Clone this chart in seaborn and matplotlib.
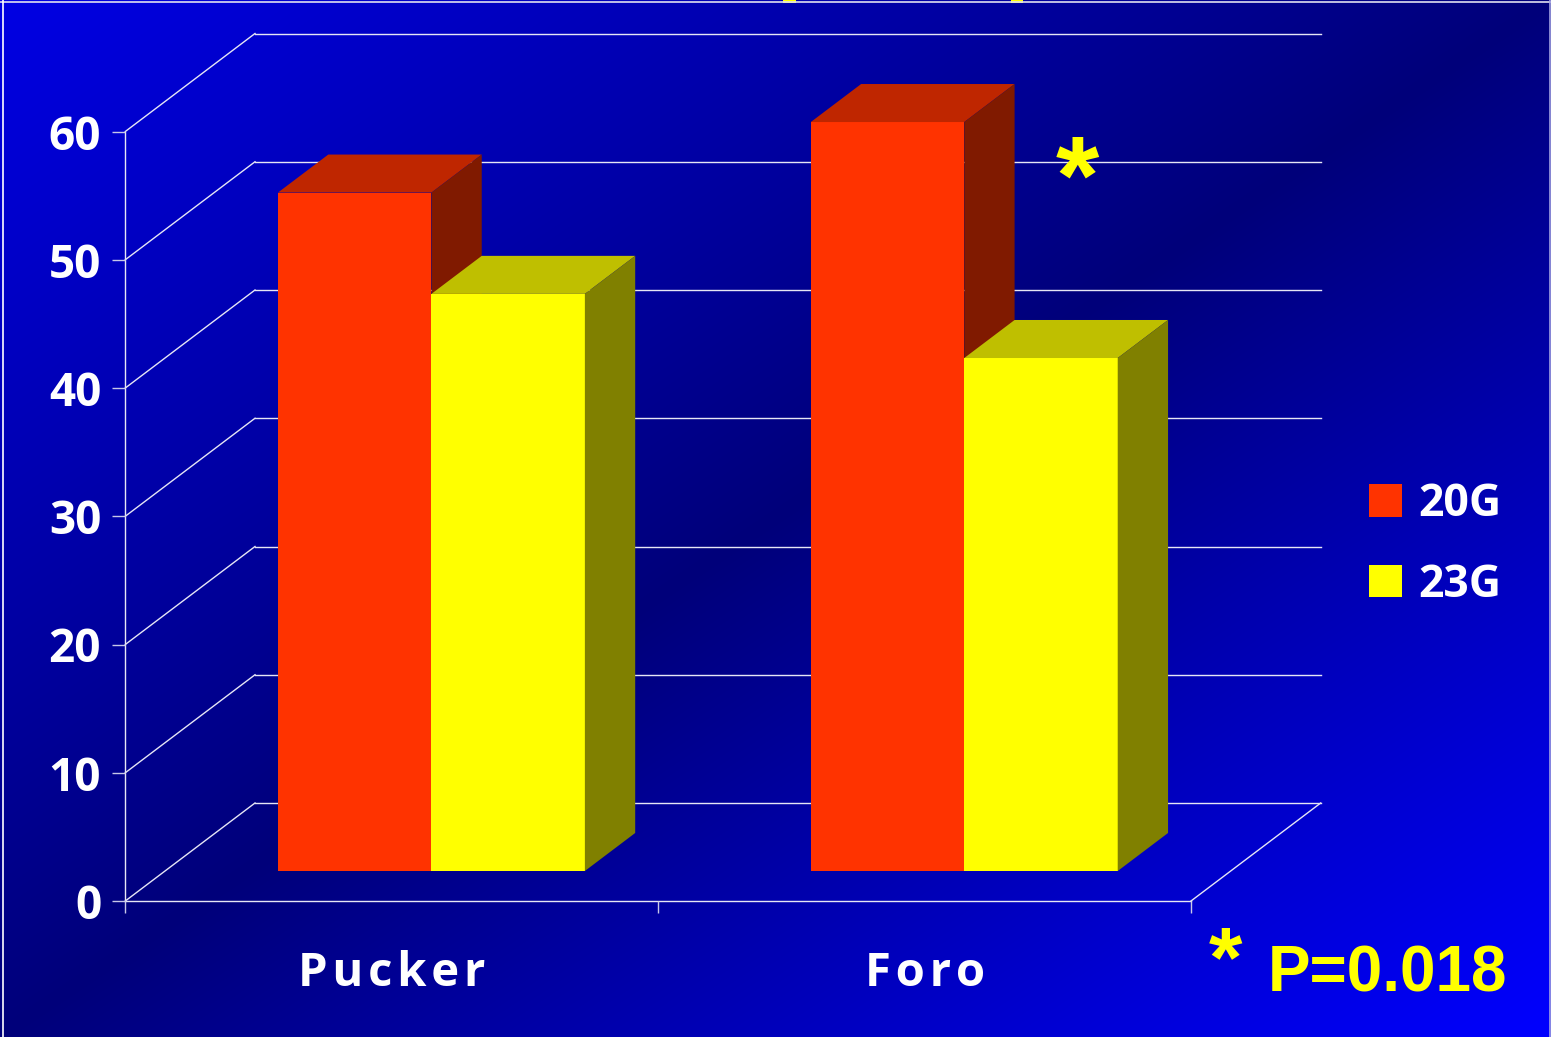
import numpy as np
import pandas as pd
import matplotlib
matplotlib.use("Agg")
import matplotlib.pyplot as plt
import matplotlib.transforms as mtransforms
from matplotlib.patches import Polygon, Rectangle
from matplotlib.lines import Line2D
import seaborn as sns

# ---------------- data ----------------
categories = ["Pucker", "Foro"]
groups = ["20G", "23G"]
values_20G = [52.9, 58.4]
values_23G = [45.0, 40.0]
y_ticks = [0, 10, 20, 30, 40, 50, 60]
category_labels = ["P\u200au\u200ac\u200ak\u200ae\u200ar", "F\u200ao\u200ar\u200ao"]
significance_mark = "*"
p_value_text = "P=0.018"
group_colors = {"20G": "#FF3300", "23G": "#FFFF00"}

plt.rcParams["font.family"] = ["Open Sans", "DejaVu Sans"]

W, H = 1551, 1037
fig = plt.figure(figsize=(W / 100, H / 100), dpi=100)

# ---------------- background gradient ----------------
bg = fig.add_axes([0, 0, 1, 1], zorder=-10)
xx, yy = np.meshgrid(np.linspace(0, 1, 600), np.linspace(0, 1, 400))
s = xx + yy
t = np.abs(s - 1.0)
blue = np.where(s < 1, 122 + t * (228 - 122), 122 + t * (255 - 122)) / 255.0
img = np.dstack([np.zeros_like(blue), np.zeros_like(blue), np.clip(blue, 0, 1)])
bg.imshow(img, extent=[0, 1, 0, 1], origin="upper", aspect="auto", interpolation="bilinear")
bg.set_xlim(0, 1)
bg.set_ylim(0, 1)
bg.axis("off")
# frame lines (top, left, right)
bg.add_line(Line2D([0, 1], [1 - 1.5 / H, 1 - 1.5 / H], color="#e0e0f0", lw=1.2))
bg.add_line(Line2D([2.5 / W, 2.5 / W], [0, 1], color="#ffffff", lw=1.2))
bg.add_line(Line2D([1 - 1.5 / W, 1 - 1.5 / W], [0, 1], color="#a0a0e0", lw=1.2))
# remnants of the cropped title
for x0, x1 in [(783, 796), (1011, 1023)]:
    bg.add_patch(Rectangle((x0 / W, 1 - 3 / H), (x1 - x0) / W, 3 / H, color="#FFFF00", lw=0))

# ---------------- main axes (front plane) ----------------
fx0, fx1 = 125.3, 1191.0
fy0, fy60 = 901.0, 131.5
ax = fig.add_axes([fx0 / W, (H - fy0) / H, (fx1 - fx0) / W, (fy0 - fy60) / H])
ax.set_facecolor("none")

df = pd.DataFrame({
    "category": categories * 2,
    "group": [groups[0]] * len(categories) + [groups[1]] * len(categories),
    "value": values_20G + values_23G,
})

sns.barplot(data=df, x="category", y="value", hue="group", order=categories,
            hue_order=groups, palette=group_colors, width=0.576, saturation=1,
            errorbar=None, edgecolor="none", linewidth=0, ax=ax)

ax.set_xlim(-0.5, len(categories) - 0.5)
ax.set_ylim(0, 60)
ax.set_xlabel("")
ax.set_ylabel("")

handles, labels = ax.get_legend_handles_labels()
if ax.get_legend() is not None:
    ax.get_legend().remove()


def px_to_data(dxp, dyp):
    p0 = ax.transData.transform((0, 0))
    return ax.transData.inverted().transform(p0 + np.array([dxp, dyp]))


depth_px = np.array([129.7, 98.0])
D = px_to_data(*depth_px)
front_frac, bar_frac = 0.306, 0.388
B = px_to_data(*(depth_px * bar_frac))
off = mtransforms.offset_copy(ax.transData, fig=fig, x=depth_px[0] * front_frac,
                              y=depth_px[1] * front_frac, units="dots")

# walls / grid
grid_kw = dict(color="#e6e6f5", lw=1.0, zorder=0.5, clip_on=False)
xl, xr = ax.get_xlim()
for v in y_ticks:
    ax.add_line(Line2D([xl + D[0], xr + D[0]], [v + D[1], v + D[1]], **grid_kw))
    ax.add_line(Line2D([xl, xl + D[0]], [v, v + D[1]], **grid_kw))
ax.add_line(Line2D([xr, xr + D[0]], [0, D[1]], **grid_kw))

# 3D bar faces
for i, cont in enumerate(ax.containers):
    base_z = 2 + i
    for p in cont.patches:
        p.set_transform(off)
        p.set_clip_on(False)
        p.set_zorder(base_z)
        fc = np.array(p.get_facecolor()[:3])
        x0 = p.get_x()
        x1 = x0 + p.get_width()
        h = p.get_height()
        top = Polygon([(x0, h), (x1, h), (x1 + B[0], h + B[1]), (x0 + B[0], h + B[1])],
                      closed=True, facecolor=fc * 0.75, edgecolor="none",
                      transform=off, clip_on=False, zorder=base_z + 0.1)
        side = Polygon([(x1, 0), (x1 + B[0], B[1]), (x1 + B[0], h + B[1]), (x1, h)],
                       closed=True, facecolor=fc * 0.5, edgecolor="none",
                       transform=off, clip_on=False, zorder=base_z + 0.1)
        ax.add_patch(top)
        ax.add_patch(side)

# spines
for sp in ["top", "right"]:
    ax.spines[sp].set_visible(False)
for sp in ["left", "bottom"]:
    ax.spines[sp].set_color("#e6e6f5")
    ax.spines[sp].set_linewidth(1.0)
    ax.spines[sp].set_zorder(0.6)

# ticks
ax.set_yticks(y_ticks)
ax.set_yticklabels([str(v) for v in y_ticks])
ax.tick_params(axis="y", direction="out", length=9.4, width=1.0, color="#c8c8e8",
               labelcolor="white", labelsize=33, pad=8)
for lab in ax.get_yticklabels():
    lab.set_fontweight("bold")

ax.set_xticks(range(len(categories)))
ax.set_xticklabels(category_labels)
ax.set_xticks(np.arange(-0.5, len(categories), 1.0), minor=True)
ax.tick_params(axis="x", which="major", length=0, pad=35, labelcolor="white", labelsize=34)
ax.tick_params(axis="x", which="minor", length=8.6, width=1.0, color="#c8c8e8", direction="out")
for lab in ax.get_xticklabels():
    lab.set_fontweight("bold")

# legend
leg = ax.legend(handles, labels, loc="upper left",
                bbox_to_anchor=(1369 / W, 1 - 482 / H), bbox_transform=fig.transFigure,
                frameon=False, prop={"size": 32, "weight": "bold"},
                handlelength=0.74, handleheight=0.74,
                handletextpad=0.38, labelspacing=0.80, borderpad=0, borderaxespad=0)
for txt in leg.get_texts():
    txt.set_color("white")

# significance annotations
fig.text(1077 / W, 1 - 214 / H, significance_mark, color="#FFFF00", fontsize=80,
         fontweight="bold", family=["Liberation Sans", "DejaVu Sans"],
         ha="center", va="baseline")
fig.text(1209 / W, 1 - 986 / H, significance_mark, color="#FFFF00", fontsize=62,
         fontweight="bold", family=["Liberation Sans", "DejaVu Sans"],
         ha="left", va="baseline")
fig.text(1268 / W, 1 - 991 / H, p_value_text, color="#FFFF00", fontsize=46,
         fontweight="bold", family=["Liberation Sans", "DejaVu Sans"],
         ha="left", va="baseline")

fig.savefig("out.png", dpi=100)
